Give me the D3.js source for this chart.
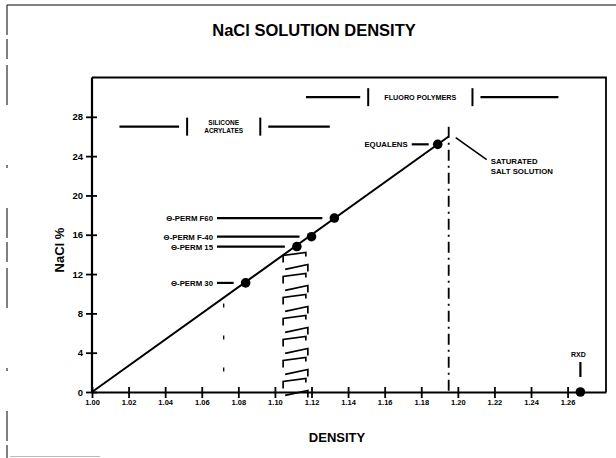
<!DOCTYPE html>
<html><head><meta charset="utf-8">
<script src="https://cdn.jsdelivr.net/npm/d3@7"></script>
<style>
body{margin:0;background:#fff;}
svg{display:block;font-family:"Liberation Sans",Arial,sans-serif;}
</style></head>
<body><svg id="c" width="616" height="458"></svg>
<script>
// ---- data ----
const xTicks = [1.00,1.02,1.04,1.06,1.08,1.10,1.12,1.14,1.16,1.18,1.20,1.22,1.24,1.26];
const yTicks = [0,4,8,12,16,20,24,28];
const lineDensity = [1.00, 1.195];
const lineNaCl = [0, 26];
const materials = ["Θ-PERM F60","Θ-PERM F-40","Θ-PERM 15","Θ-PERM 30","EQUALENS","RXD"];
const matDensity = [1.1325, 1.120, 1.112, 1.084, 1.189, 1.267];
const matNaCl = [17.7, 15.8, 14.8, 11.1, 25.2, 0];
const groups = ["SILICONE|ACRYLATES", "FLUORO POLYMERS"];
const groupMin = [1.015, 1.117];
const groupMax = [1.130, 1.255];
const groupBarL = [1.052, 1.151];
const groupBarR = [1.092, 1.208];
const groupLevel = [27.0, 30.0];
const saturatedDensity = 1.195, saturatedNaCl = 27;
const dottedDensity = 1.072, dottedNaCl = 9;
const hatchMin = 1.1045, hatchMax = 1.118, hatchTop = 14.2;

const svg = d3.select("#c");
const x = d3.scaleLinear().domain([1.00, 1.281]).range([92, 606]);
const y = d3.scaleLinear().domain([0, 32]).range([392, 77.5]);

// outer decorative border
svg.append("line").attr("x1",7).attr("x2",616).attr("y1",5).attr("y2",5).attr("stroke","#000").attr("stroke-width",1);
svg.append("line").attr("x1",7).attr("x2",7).attr("y1",5).attr("y2",458).attr("stroke","#000").attr("stroke-width",1).attr("stroke-dasharray","30,4,20,6,40,60,3,40");
svg.append("line").attr("x1",10).attr("x2",100).attr("y1",456.5).attr("y2",456.5).attr("stroke","#bbb").attr("stroke-width",1);

// title
svg.append("text").attr("x",314).attr("y",36).attr("text-anchor","middle")
  .attr("font-size",16.5).attr("font-weight","bold").text("NaCl SOLUTION DENSITY");

// frame top & right
svg.append("path").attr("d",`M${x(1.00)},${y(32)}H${x.range()[1]}V${y(0)}`)
  .attr("fill","none").attr("stroke","#000").attr("stroke-width",1.8);

// axes
const xAxis = d3.axisBottom(x).tickValues(xTicks).tickFormat(d3.format(".2f")).tickSize(5).tickSizeOuter(0);
const gx = svg.append("g").attr("transform",`translate(0,${y(0)})`).call(xAxis);
gx.select(".domain").attr("stroke-width",2.2);
gx.selectAll(".tick line").attr("y1",-5).attr("y2",6).attr("stroke-width",1.8);
gx.selectAll(".tick text").attr("font-size",7.5).attr("font-weight","bold").attr("dy","0.6em").attr("font-family","Liberation Sans, Arial");

const yAxis = d3.axisLeft(y).tickValues(yTicks).tickSize(5).tickSizeOuter(0);
const gy = svg.append("g").attr("transform",`translate(${x(1.00)},0)`).call(yAxis);
gy.select(".domain").attr("stroke-width",2.2).attr("d",`M0,${y(0)}V${y(32)}`);
gy.selectAll(".tick line").attr("x1",5).attr("x2",-6).attr("stroke-width",1.8);
gy.selectAll(".tick text").attr("font-size",9.5).attr("font-weight","bold").attr("x",-9).attr("font-family","Liberation Sans, Arial");

// axis titles
svg.append("text").attr("transform","translate(64,250) rotate(-90)").attr("text-anchor","middle")
  .attr("font-size",13).attr("font-weight","bold").text("NaCl %");
svg.append("text").attr("x",337).attr("y",442).attr("text-anchor","middle")
  .attr("font-size",13).attr("font-weight","bold").text("DENSITY");

// vertical dashed saturated line
svg.append("line").attr("x1",x(saturatedDensity)).attr("x2",x(saturatedDensity))
  .attr("y1",y(saturatedNaCl)).attr("y2",y(0)).attr("stroke","#000").attr("stroke-width",1.8)
  .attr("stroke-dasharray","11,5,2,5");
// dotted vertical
svg.append("line").attr("x1",x(dottedDensity)).attr("x2",x(dottedDensity))
  .attr("y1",y(dottedNaCl)).attr("y2",y(0)).attr("stroke","#000").attr("stroke-width",1.3)
  .attr("stroke-dasharray","4,28");

// hatched band
const hx0 = x(hatchMin), hx1 = x(hatchMax);
const hy0 = y(hatchTop), hy1 = y(0);
const step = 21;
let hp = "";
for (let yy = hy0; yy < hy1 - 4; yy += step) {
  hp += `M${hx0},${yy+10}V${yy+3}L${hx1-2},${yy}V${yy+4}`;
  hp += `M${hx0+2},${yy+17}L${hx1},${yy+12}V${yy+19}`;
}
svg.append("path").attr("d",hp).attr("fill","none").attr("stroke","#000").attr("stroke-width",1.7);

// main line
const line = d3.line().x(d=>x(d[0])).y(d=>y(d[1]));
svg.append("path").datum(d3.zip(lineDensity,lineNaCl)).attr("d",line)
  .attr("fill","none").attr("stroke","#000").attr("stroke-width",2);

// material points + leaders
materials.forEach((m,i)=>{
  const px = x(matDensity[i]), py = y(matNaCl[i]);
  svg.append("circle").attr("cx",px).attr("cy",py).attr("r",4.8).attr("fill","#000");
  if (m.startsWith("Θ")) {
    svg.append("line").attr("x1",217).attr("x2",px-12).attr("y1",py).attr("y2",py)
      .attr("stroke","#000").attr("stroke-width",2.2);
    svg.append("text").attr("x",213).attr("y",py+3).attr("text-anchor","end")
      .attr("font-size",7.8).attr("font-weight","bold").text(m);
  } else if (m === "EQUALENS") {
    svg.append("line").attr("x1",px-26).attr("x2",px-9).attr("y1",py).attr("y2",py)
      .attr("stroke","#000").attr("stroke-width",2.2);
    svg.append("text").attr("x",px-30).attr("y",py+3).attr("text-anchor","end")
      .attr("font-size",7.8).attr("font-weight","bold").text(m);
  } else {
    svg.append("line").attr("x1",px).attr("x2",px).attr("y1",py-15).attr("y2",py-30)
      .attr("stroke","#000").attr("stroke-width",2.2);
    svg.append("text").attr("x",px-2).attr("y",py-35).attr("text-anchor","middle")
      .attr("font-size",7).attr("font-weight","bold").text(m);
  }
});

// saturated label
const sx = x(saturatedDensity), sy = y(saturatedNaCl);
svg.append("line").attr("x1",sx+7).attr("y1",sy+11).attr("x2",sx+38).attr("y2",sy+33)
  .attr("stroke","#000").attr("stroke-width",1.6);
svg.append("text").attr("x",sx+42).attr("y",sy+37).attr("font-size",7.8).attr("font-weight","bold").text("SATURATED");
svg.append("text").attr("x",sx+42).attr("y",sy+47).attr("font-size",7.8).attr("font-weight","bold").text("SALT SOLUTION");

// group ranges
groups.forEach((g,i)=>{
  const gy0 = y(groupLevel[i]);
  const bl = x(groupBarL[i]), br = x(groupBarR[i]);
  svg.append("line").attr("x1",x(groupMin[i])).attr("x2",bl-8).attr("y1",gy0).attr("y2",gy0).attr("stroke","#000").attr("stroke-width",2.2);
  svg.append("line").attr("x1",br+8).attr("x2",x(groupMax[i])).attr("y1",gy0).attr("y2",gy0).attr("stroke","#000").attr("stroke-width",2.2);
  [bl,br].forEach(b=>svg.append("line").attr("x1",b).attr("x2",b).attr("y1",gy0-9).attr("y2",gy0+9).attr("stroke","#000").attr("stroke-width",2));
  const parts = g.split("|");
  const cx = (bl+br)/2;
  parts.forEach((p,k)=>{
    svg.append("text").attr("x",cx).attr("y",gy0 + 2.5 + (k - (parts.length-1)/2)*8.5)
      .attr("text-anchor","middle").attr("font-size",parts.length>1?6.5:7.2).attr("font-weight","bold").text(p);
  });
});
</script></body></html>
